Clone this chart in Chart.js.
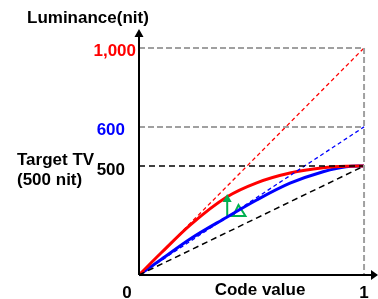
<!DOCTYPE html>
<html>
<head>
<meta charset="utf-8">
<script src="https://cdn.jsdelivr.net/npm/chart.js@4.4.1/dist/chart.umd.min.js"></script>
<style>
  html, body { margin: 0; padding: 0; background: #fff; }
  canvas { display: block; }
</style>
</head>
<body>
<canvas id="grafico" width="378" height="299"></canvas>
<script>
// dados (x = code value, y = luminancia em nit)
const codeValues = [0, 0.1, 0.227, 0.39, 0.523, 0.671, 0.818, 0.92, 1];
const redCurve   = [0, 103, 229, 358, 423, 468, 492, 499, 500];
const blueCurve  = [0, 72, 165, 265, 344, 421, 474, 497, 500];

const peakRed = 1000;   // conteudo masterizado em 1000 nit
const peakBlue = 600;   // conteudo masterizado em 600 nit
const peakTarget = 500; // TV alvo

const yTickValues = [1000, 600, 500];
const yTickLabels = ['1,000', '600', '500'];
const xTickLabels = ['0', '1'];

// marcador verde (seta + delta)
const arrowX = [0.392, 0.392, 0.473, 0.442, 0.418];
const arrowY = [344, 271, 271, 321, 271];
const arrowHead = { x: 0.392, y: 349 };

// escala vertical do desenho original nao e linear (esquematica)
const knotValues = [0, 500, 600, 1000, 1096];
const knotFracs  = [0, 0.443, 0.602, 0.923, 1];

class PiecewiseScale extends Chart.LinearScale {
  getPixelForValue(value) {
    if (value === null || value === undefined) return NaN;
    let i = 1;
    while (i < knotValues.length - 1 && value > knotValues[i]) i++;
    const v0 = knotValues[i - 1], v1 = knotValues[i];
    const f0 = knotFracs[i - 1], f1 = knotFracs[i];
    const dec = f0 + (value - v0) / (v1 - v0) * (f1 - f0);
    return this.getPixelForDecimal(dec);
  }
  getValueForPixel(pixel) {
    const dec = this.getDecimalForPixel(pixel);
    let i = 1;
    while (i < knotFracs.length - 1 && dec > knotFracs[i]) i++;
    const v0 = knotValues[i - 1], v1 = knotValues[i];
    const f0 = knotFracs[i - 1], f1 = knotFracs[i];
    return v0 + (dec - f0) / (f1 - f0) * (v1 - v0);
  }
}
PiecewiseScale.id = 'piecewise';
PiecewiseScale.defaults = { ...Chart.LinearScale.defaults };
Chart.register(PiecewiseScale);

const pts = (xs, ys) => xs.map((x, i) => ({ x: x, y: ys[i] }));

const RED = '#ff0000';
const BLUE = '#0000ff';
const GREEN = '#00b050';
const GRAY = '#a0a0a0';
const FONT = 'bold 17px "Liberation Sans", Arial, sans-serif';

const decorations = {
  id: 'decorations',
  afterDatasetsDraw(chart) {
    const ctx = chart.ctx;
    const xs = chart.scales.x, ys = chart.scales.y;
    const area = chart.chartArea;
    const x0 = xs.getPixelForValue(0);
    const y0 = ys.getPixelForValue(0);

    ctx.save();
    // eixos com setas
    ctx.strokeStyle = '#000';
    ctx.fillStyle = '#000';
    ctx.lineWidth = 2;
    ctx.beginPath();
    ctx.moveTo(x0, y0);
    ctx.lineTo(x0, area.top + 7);
    ctx.moveTo(x0, y0);
    ctx.lineTo(area.right - 5, y0);
    ctx.stroke();
    ctx.beginPath();
    ctx.moveTo(x0, area.top);
    ctx.lineTo(x0 - 4.5, area.top + 8);
    ctx.lineTo(x0 + 4.5, area.top + 8);
    ctx.closePath();
    ctx.fill();
    ctx.beginPath();
    ctx.moveTo(area.right, y0);
    ctx.lineTo(area.right - 7, y0 - 5);
    ctx.lineTo(area.right - 7, y0 + 5);
    ctx.closePath();
    ctx.fill();

    // cabeca da seta verde
    const hx = xs.getPixelForValue(arrowHead.x);
    const hy = ys.getPixelForValue(arrowHead.y);
    ctx.fillStyle = GREEN;
    ctx.beginPath();
    ctx.moveTo(hx, hy - 5);
    ctx.lineTo(hx - 4.5, hy + 3);
    ctx.lineTo(hx + 4.5, hy + 3);
    ctx.closePath();
    ctx.fill();

    // textos
    ctx.font = FONT;
    ctx.textBaseline = 'alphabetic';
    ctx.fillStyle = '#000';
    ctx.textAlign = 'left';
    ctx.fillText('Luminance(nit)', 27, 23);

    const tickColors = [RED, BLUE, '#000'];
    const tickRight = [136, 125, 125];
    ctx.textAlign = 'right';
    yTickValues.forEach((v, i) => {
      ctx.fillStyle = tickColors[i];
      ctx.fillText(yTickLabels[i], tickRight[i], ys.getPixelForValue(v) + 8.5);
    });

    ctx.fillStyle = '#000';
    ctx.textAlign = 'left';
    ctx.fillText('Target TV', 17, 165);
    ctx.fillText('(500 nit)', 17, 185);

    ctx.textAlign = 'center';
    ctx.fillText(xTickLabels[0], x0 - 12, 298);
    ctx.fillText(xTickLabels[1], xs.getPixelForValue(1), 298);
    ctx.fillText('Code value', 260, 295);
    ctx.restore();
  }
};

const ctx = document.getElementById('grafico');

new Chart(ctx, {
  type: 'scatter',
  data: {
    datasets: [
      { data: pts([0, 1], [peakRed, peakRed]), borderColor: GRAY, borderWidth: 2, borderDash: [6, 3] },
      { data: pts([0, 1], [peakBlue, peakBlue]), borderColor: GRAY, borderWidth: 2, borderDash: [6, 3] },
      { data: pts([1, 1], [peakRed, 0]), borderColor: GRAY, borderWidth: 2, borderDash: [6, 3] },
      { data: pts([0, 1], [peakTarget, peakTarget]), borderColor: '#000', borderWidth: 1.5, borderDash: [6, 4] },
      { data: pts([0, 1], [0, peakTarget]), borderColor: '#000', borderWidth: 1.5, borderDash: [6, 4] },
      { data: pts([0, 1], [0, peakRed]), borderColor: RED, borderWidth: 1.3, borderDash: [4, 3] },
      { data: pts([0, 1], [0, peakBlue]), borderColor: BLUE, borderWidth: 1.3, borderDash: [4, 3] },
      { data: pts(codeValues, redCurve), borderColor: RED, borderWidth: 3, cubicInterpolationMode: 'monotone' },
      { data: pts(codeValues, blueCurve), borderColor: BLUE, borderWidth: 3, cubicInterpolationMode: 'monotone' },
      { data: pts(arrowX, arrowY), borderColor: GREEN, borderWidth: 2 }
    ].map(d => Object.assign({ showLine: true, pointRadius: 0, fill: false, clip: false }, d))
  },
  options: {
    responsive: false,
    animation: false,
    events: [],
    layout: { padding: { left: 139, top: 29, right: 0, bottom: 24 } },
    plugins: { legend: { display: false }, tooltip: { enabled: false } },
    scales: {
      x: { type: 'linear', display: false, min: 0, max: 1.062 },
      y: { type: 'piecewise', display: false, min: 0, max: 1096 }
    }
  },
  plugins: [decorations]
});
</script>
</body>
</html>
